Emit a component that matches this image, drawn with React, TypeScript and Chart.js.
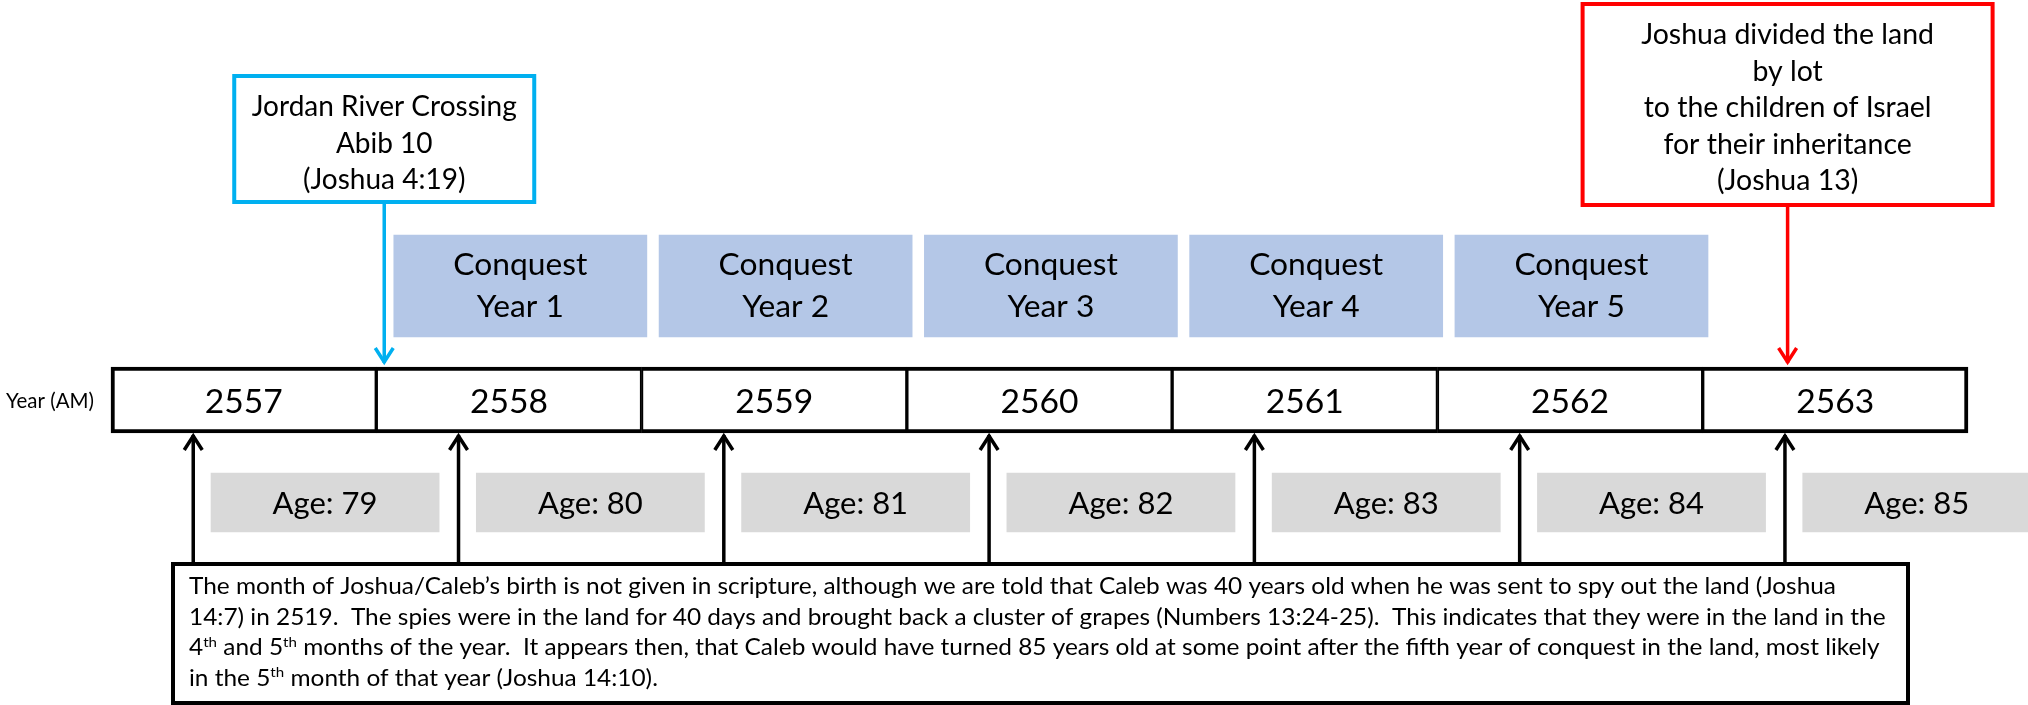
import React, { useEffect, useRef } from 'react';
import { Chart, registerables } from 'chart.js';

Chart.register(...registerables);

// ---------- data ----------
const years = [2557, 2558, 2559, 2560, 2561, 2562, 2563];
const ages = [79, 80, 81, 82, 83, 84, 85];
const conquestYears = [1, 2, 3, 4, 5];
const conquestFirstYear = 2558;
const rowLabel = 'Year (AM)';
const crossingLines = ['Jordan River Crossing', 'Abib 10', '(Joshua 4:19)'];
const crossingAt = 2558.03;
const divisionLines = [
  'Joshua divided the land',
  'by lot',
  'to the children of Israel',
  'for their inheritance',
  '(Joshua 13)',
];
const divisionAt = 2563.32;
const birthdayFraction = 0.31;
const noteLines: [string, boolean][][] = [
  [["The month of Joshua/Caleb\u2019s birth is not given in scripture, although we are told that Caleb was 40 years old when he was sent to spy out the land (Joshua", false]],
  [["14:7) in 2519.  The spies were in the land for 40 days and brought back a cluster of grapes (Numbers 13:24-25).  This indicates that they were in the land in the", false]],
  [["4", false], ["th", true], [" and 5", false], ["th", true], [" months of the year.  It appears then, that Caleb would have turned 85 years old at some point after the fifth year of conquest in the land, most likely", false]],
  [["in the 5", false], ["th", true], [" month of that year (Joshua 14:10).", false]],
];

// ---------- layout / style ----------
const W = 2028;
const H = 705;
const FONT = 'Lato, "Open Sans", sans-serif';
const X_MIN = 2556.5816;
const X_MAX = 2564.2262;
const ROW_Y = 400;
const ROW_H = 66;
const CONQ_Y = 286;
const CONQ_H = 102;
const AGE_Y = 502.5;
const AGE_H = 59;

function fitSize(ctx: CanvasRenderingContext2D, text: string, target: number) {
  ctx.font = `100px ${FONT}`;
  return (100 * target) / ctx.measureText(text).width;
}

const overlay = {
  id: 'overlay',
  afterDatasetsDraw(chart: any) {
    const ctx: CanvasRenderingContext2D = chart.ctx;
    const xs = chart.scales.x;
    const ys = chart.scales.y;
    const px = (v: number) => xs.getPixelForValue(v);
    const py = (v: number) => ys.getPixelForValue(v);
    ctx.save();
    ctx.fillStyle = '#000';
    ctx.textBaseline = 'alphabetic';

    const text = (s: string, x: number, y: number, size: number, align: CanvasTextAlign = 'center') => {
      ctx.font = `${size}px ${FONT}`;
      ctx.textAlign = align;
      ctx.fillText(s, x, y);
    };

    const arrow = (x: number, y0: number, y1: number, color: string) => {
      const dir = y1 > y0 ? -1 : 1;
      ctx.strokeStyle = color;
      ctx.lineWidth = 3.5;
      ctx.lineCap = 'butt';
      ctx.lineJoin = 'miter';
      ctx.beginPath();
      ctx.moveTo(x, y0);
      ctx.lineTo(x, y1);
      ctx.stroke();
      ctx.beginPath();
      ctx.moveTo(x - 9, y1 + dir * 15);
      ctx.lineTo(x, y1 + dir * 1);
      ctx.lineTo(x + 9, y1 + dir * 15);
      ctx.stroke();
    };

    // row label
    text(rowLabel, 6, 408, fitSize(ctx, rowLabel, 88), 'left');

    // years
    const yearSize = fitSize(ctx, '2557', 78);
    years.forEach((y) => text(String(y), px(y + 0.5), py(ROW_Y + 13), yearSize));

    // conquest labels
    const cSize = fitSize(ctx, 'Conquest', 134);
    conquestYears.forEach((n, i) => {
      const cx = px(conquestFirstYear + i + 0.543);
      text('Conquest', cx, py(CONQ_Y - 11), cSize);
      text(`Year ${n}`, cx, py(CONQ_Y + 31), cSize);
    });

    // ages
    const aSize = fitSize(ctx, 'Age: 79', 105);
    ages.forEach((a, i) => text(`Age: ${a}`, px(years[i] + 0.807), py(AGE_Y + 11.5), aSize));

    // birthday arrows (up)
    years.forEach((y) => arrow(px(y + birthdayFraction), py(562), py(435), '#000'));

    // crossing callout
    const bx = px(crossingAt);
    ctx.fillStyle = '#fff';
    ctx.fillRect(bx - 150, 76, 300, 126);
    ctx.strokeStyle = '#00B0F0';
    ctx.lineWidth = 4;
    ctx.strokeRect(bx - 150, 76, 300, 126);
    arrow(bx, 204, 363, '#00B0F0');
    ctx.fillStyle = '#000';
    const bSize = fitSize(ctx, crossingLines[0], 265);
    crossingLines.forEach((l, i) => text(l, bx, 116 + i * 36.5, bSize));

    // division callout
    const rx = px(divisionAt);
    ctx.fillStyle = '#fff';
    ctx.fillRect(rx - 205, 4, 410, 201);
    ctx.strokeStyle = '#FF0000';
    ctx.lineWidth = 4;
    ctx.strokeRect(rx - 205, 4, 410, 201);
    arrow(rx, 207, 363, '#FF0000');
    ctx.fillStyle = '#000';
    const rSize = fitSize(ctx, divisionLines[0], 293);
    divisionLines.forEach((l, i) => text(l, rx, 44 + i * 36.5, rSize));

    // note box
    ctx.fillStyle = '#fff';
    ctx.fillRect(173, 564, 1735, 139);
    ctx.strokeStyle = '#000';
    ctx.lineWidth = 4;
    ctx.strokeRect(173, 564, 1735, 139);
    ctx.fillStyle = '#000';
    const nSize = 22.5;
    ctx.font = `${nSize}px ${FONT}`;
    const sx = 1647 / ctx.measureText(noteLines[0][0][0]).width;
    ctx.save();
    ctx.translate(189, 0);
    ctx.scale(sx, 1);
    noteLines.forEach((segs, li) => {
      let x = 0;
      const base = 594 + li * 30.5;
      segs.forEach(([s, sup]) => {
        const size = sup ? nSize * 0.62 : nSize;
        ctx.font = `${size}px ${FONT}`;
        ctx.textAlign = 'left';
        ctx.fillText(s, x, sup ? base - nSize * 0.36 : base);
        x += ctx.measureText(s).width;
      });
    });
    ctx.restore();

    ctx.restore();
  },
};

export default function App() {
  const ref = useRef<HTMLCanvasElement | null>(null);
  useEffect(() => {
    document.body.style.margin = '0';
    const canvas = ref.current;
    if (!canvas) return;
    const chart = new Chart(canvas, {
      type: 'bar',
      data: {
        datasets: [
          {
            label: 'Conquest',
            data: conquestYears.map((n, i) => ({
              x: [conquestFirstYear + i + 0.066, conquestFirstYear + i + 1.02],
              y: CONQ_Y,
            })) as any,
            backgroundColor: '#B4C7E7',
            borderWidth: 0,
            maxBarThickness: CONQ_H,
          },
          {
            label: 'Year',
            data: years.map((y) => ({ x: [y, y + 1], y: ROW_Y })) as any,
            backgroundColor: '#FFFFFF',
            borderColor: '#000000',
            borderSkipped: false,
            borderWidth: (c: any) => ({
              top: 4,
              bottom: 4,
              left: c.dataIndex === 0 ? 4 : 2,
              right: c.dataIndex === years.length - 1 ? 4 : 2,
            }),
            maxBarThickness: ROW_H,
          } as any,
          {
            label: 'Age',
            data: ages.map((a, i) => ({ x: [years[i] + 0.377, years[i] + 1.237], y: AGE_Y })) as any,
            backgroundColor: '#D9D9D9',
            borderWidth: 0,
            maxBarThickness: AGE_H,
          },
        ],
      },
      options: {
        indexAxis: 'y',
        responsive: false,
        maintainAspectRatio: false,
        devicePixelRatio: 1,
        animation: false,
        events: [],
        layout: { padding: 0 },
        datasets: { bar: { grouped: false, categoryPercentage: 1, barPercentage: 1 } } as any,
        scales: {
          x: { type: 'linear', min: X_MIN, max: X_MAX, display: false, offset: false },
          y: {
            type: 'linear',
            min: 0,
            max: H,
            reverse: true,
            display: false,
            offset: false,
            ticks: { stepSize: 1000 },
          },
        },
        plugins: { legend: { display: false }, tooltip: { enabled: false } },
      },
      plugins: [overlay],
    });
    return () => chart.destroy();
  }, []);
  return (
    <div style={{ width: W, height: H, background: '#fff' }}>
      <canvas ref={ref} width={W} height={H} style={{ display: 'block', width: W, height: H }} />
    </div>
  );
}
